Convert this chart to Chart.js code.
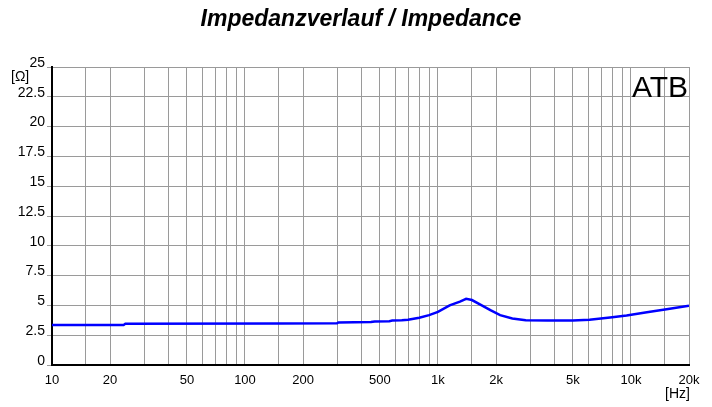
<!DOCTYPE html>
<html>
<head>
<meta charset="utf-8">
<script src="https://cdn.jsdelivr.net/npm/chart.js@4.4.1/dist/chart.umd.min.js"></script>
<style>
    html, body { margin: 0; padding: 0; background: #fff; }
    #wrap { width: 712px; height: 407px; }
</style>
</head>
<body>
<div id="wrap"><canvas id="impChart" width="712" height="407"></canvas></div>
<script>
// Impedance curve (Hz / Ohm)
const freqs = [10, 23.5, 24, 150, 300, 305, 450, 470, 560, 580, 650, 700, 800, 900, 1000, 1150, 1300, 1400, 1500, 1650, 1870, 2100, 2430, 2850, 3700, 5000, 6100, 7800, 9500, 12100, 15300, 20000];
const impedance = [3.36, 3.36, 3.46, 3.48, 3.5, 3.57, 3.6, 3.65, 3.67, 3.73, 3.75, 3.8, 3.97, 4.18, 4.45, 5.0, 5.32, 5.55, 5.45, 5.08, 4.6, 4.18, 3.9, 3.76, 3.73, 3.73, 3.8, 3.98, 4.15, 4.42, 4.68, 4.97];

const xLabelValues = [10, 20, 50, 100, 200, 500, 1000, 2000, 5000, 10000, 20000];
const xLabels = ['10', '20', '50', '100', '200', '500', '1k', '2k', '5k', '10k', '20k'];
const gridSteps = [1, 1.5, 2, 3, 4, 5, 6, 7, 8, 9];

// grid lines: 10, 15, 20, 30 ... per decade up to 20k
const xGrid = [];
[10, 100, 1000, 10000].forEach(d => gridSteps.forEach(s => { if (d * s <= 20000) xGrid.push(d * s); }));

const FONT = 'Liberation Sans, Arial, sans-serif';

// title, unit labels and the ATB tag
const extraText = {
    id: 'extraText',
    afterDraw(chart) {
        const ctx = chart.ctx;
        ctx.save();
        ctx.fillStyle = '#000';
        ctx.textBaseline = 'middle';
        ctx.textAlign = 'center';
        ctx.font = 'italic bold 23px ' + FONT;
        ctx.fillText('Impedanzverlauf / Impedance', 361, 20);
        ctx.font = '14px ' + FONT;
        ctx.textAlign = 'left';
        ctx.fillText('[\u03A9]', 11, 77);
        ctx.textAlign = 'right';
        ctx.fillText('[Hz]', 690, 394);
        ctx.font = '30px ' + FONT;
        ctx.textBaseline = 'alphabetic';
        ctx.fillText('ATB', 688, 97);
        ctx.restore();
    }
};

new Chart(document.getElementById('impChart').getContext('2d'), {
    type: 'line',
    data: {
        datasets: [{
            data: freqs.map((f, i) => ({ x: f, y: impedance[i] })),
            borderColor: '#0000ff',
            borderWidth: 2.5,
            pointRadius: 0,
            tension: 0,
            fill: false
        }]
    },
    options: {
        responsive: false,
        animation: false,
        layout: { padding: { left: 0, right: 23, top: 67, bottom: 0 } },
        plugins: {
            legend: { display: false },
            tooltip: { enabled: false },
            title: { display: false }
        },
        scales: {
            x: {
                type: 'logarithmic',
                min: 10,
                max: 20000,
                afterBuildTicks: scale => { scale.ticks = xGrid.map(v => ({ value: v })); },
                afterFit: scale => { scale.height = 42; },
                ticks: {
                    autoSkip: false,
                    maxRotation: 0,
                    color: '#000',
                    padding: 8,
                    font: { family: FONT, size: 13 },
                    callback: v => {
                        const i = xLabelValues.indexOf(v);
                        return i >= 0 ? xLabels[i] : '';
                    }
                },
                grid: { color: '#9a9a9a', lineWidth: 1, drawTicks: false },
                border: { color: '#000', width: 2 }
            },
            y: {
                min: 0,
                max: 25,
                afterFit: scale => { scale.width = 52; },
                ticks: {
                    stepSize: 2.5,
                    color: '#000',
                    padding: 2,
                    labelOffset: -4,
                    font: { family: FONT, size: 14 },
                    callback: v => String(v)
                },
                grid: { color: '#9a9a9a', lineWidth: 1, tickLength: 5 },
                border: { color: '#000', width: 2 }
            }
        }
    },
    plugins: [extraText]
});
</script>
</body>
</html>
